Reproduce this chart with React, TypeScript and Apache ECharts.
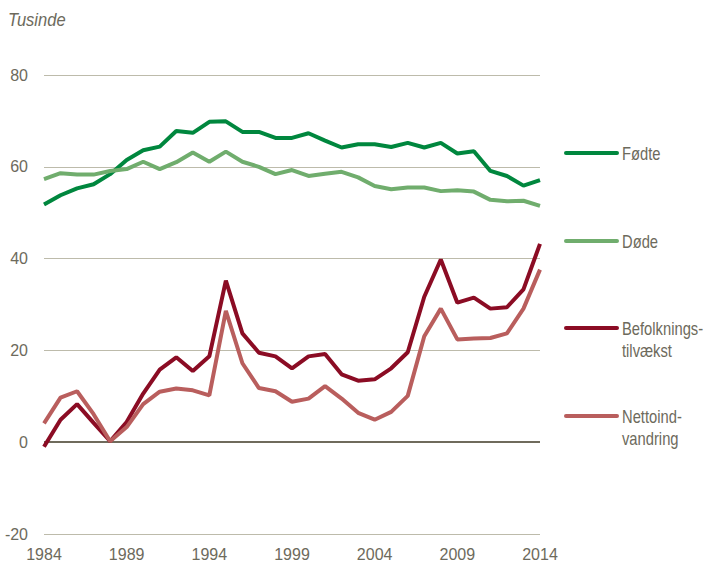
import React, { useEffect, useRef } from "react";
import * as echarts from "echarts";

const years = [
  "1984","1985","1986","1987","1988","1989","1990","1991","1992","1993",
  "1994","1995","1996","1997","1998","1999","2000","2001","2002","2003",
  "2004","2005","2006","2007","2008","2009","2010","2011","2012","2013","2014",
];

const foedte = [
  51.8, 53.8, 55.3, 56.2, 58.4, 61.5, 63.6, 64.4, 67.8, 67.4,
  69.8, 69.9, 67.6, 67.6, 66.3, 66.3, 67.3, 65.7, 64.2, 64.9,
  64.9, 64.3, 65.2, 64.2, 65.2, 62.9, 63.4, 59.1, 58.0, 55.9, 57.1,
];

const doede = [
  57.3, 58.6, 58.3, 58.3, 59.1, 59.5, 61.1, 59.5, 61.0, 63.1,
  61.1, 63.3, 61.1, 60.0, 58.4, 59.3, 58.0, 58.5, 58.9, 57.7,
  55.8, 55.1, 55.5, 55.5, 54.7, 54.9, 54.6, 52.8, 52.5, 52.6, 51.5,
];

const befolkning = [
  -1.0, 4.9, 8.3, 4.2, 0.2, 4.4, 10.6, 15.8, 18.5, 15.5,
  18.7, 35.2, 23.7, 19.5, 18.7, 16.1, 18.7, 19.2, 14.8, 13.4,
  13.7, 16.1, 19.6, 31.7, 39.8, 30.4, 31.5, 29.1, 29.4, 33.3, 43.2,
];

const netto = [
  4.1, 9.7, 11.1, 6.1, 0.2, 3.3, 8.3, 11.0, 11.7, 11.3,
  10.2, 28.6, 17.2, 11.8, 11.1, 8.8, 9.5, 12.2, 9.5, 6.4,
  4.9, 6.6, 10.1, 23.1, 29.1, 22.4, 22.6, 22.7, 23.7, 29.1, 37.6,
];

const seriesNames = ["Fødte", "Døde", "Befolknings-\ntilvækst", "Nettoind-\nvandring"];
const colors = ["#00873e", "#70ad6d", "#8b0c24", "#b95e5d"];

const FONT = "'Liberation Sans', Arial, sans-serif";
const TEXT_COLOR = "#6d6a5c";

export default function App() {
  const ref = useRef<HTMLDivElement>(null);
  useEffect(() => {
    document.body.style.margin = "0";
    if (!ref.current) return;
    const chart = echarts.init(ref.current, undefined, { renderer: "svg" });
    const data = [foedte, doede, befolkning, netto];
    const legendY = [153, 241, 328, 416];
    const graphics: any[] = [
      {
        type: "text",
        x: 8,
        y: 11,
        scaleX: 0.92,
        style: {
          text: "Tusinde",
          font: `italic 18px ${FONT}`,
          fill: TEXT_COLOR,
          verticalAlign: "top",
        },
      },
    ];
    seriesNames.forEach((n, i) => {
      graphics.push({
        type: "line",
        shape: { x1: 566, y1: legendY[i], x2: 617, y2: legendY[i] },
        style: { stroke: colors[i], lineWidth: 4, lineCap: "round" },
      });
      graphics.push({
        type: "text",
        x: 622,
        y: legendY[i] - 11,
        scaleX: 0.82,
        style: {
          text: n,
          font: `18px ${FONT}`,
          fill: TEXT_COLOR,
          lineHeight: 22,
          verticalAlign: "top",
        },
      });
    });
    chart.setOption({
      animation: false,
      grid: { left: 44, right: 167, top: 75, bottom: 30, containLabel: false },
      xAxis: {
        type: "category",
        data: years,
        boundaryGap: false,
        axisLine: { show: false },
        axisTick: { show: false },
        axisLabel: {
          interval: 4,
          color: TEXT_COLOR,
          fontFamily: FONT,
          fontSize: 16,
          margin: 12,
          showMaxLabel: true,
        },
        splitLine: { show: false },
      },
      yAxis: {
        type: "value",
        min: -20,
        max: 80,
        interval: 20,
        axisLine: { show: false },
        axisTick: { show: false },
        axisLabel: {
          color: TEXT_COLOR,
          fontFamily: FONT,
          fontSize: 16,
          margin: 16,
        },
        splitLine: { lineStyle: { color: "#bdbbab", width: 1 } },
      },
      graphic: graphics,
      series: data.map((d, i) => ({
        name: seriesNames[i],
        type: "line",
        data: d,
        symbol: "none",
        lineStyle: { color: colors[i], width: 4 },
        z: 3 + i,
        ...(i === 0
          ? {
              markLine: {
                silent: true,
                symbol: "none",
                label: { show: false },
                lineStyle: { color: "#6f6b5c", width: 2, type: "solid" },
                data: [{ yAxis: 0 }],
                z: 1,
              },
            }
          : {}),
      })),
    });
    return () => chart.dispose();
  }, []);
  return <div ref={ref} style={{ width: 707, height: 564 }} />;
}
